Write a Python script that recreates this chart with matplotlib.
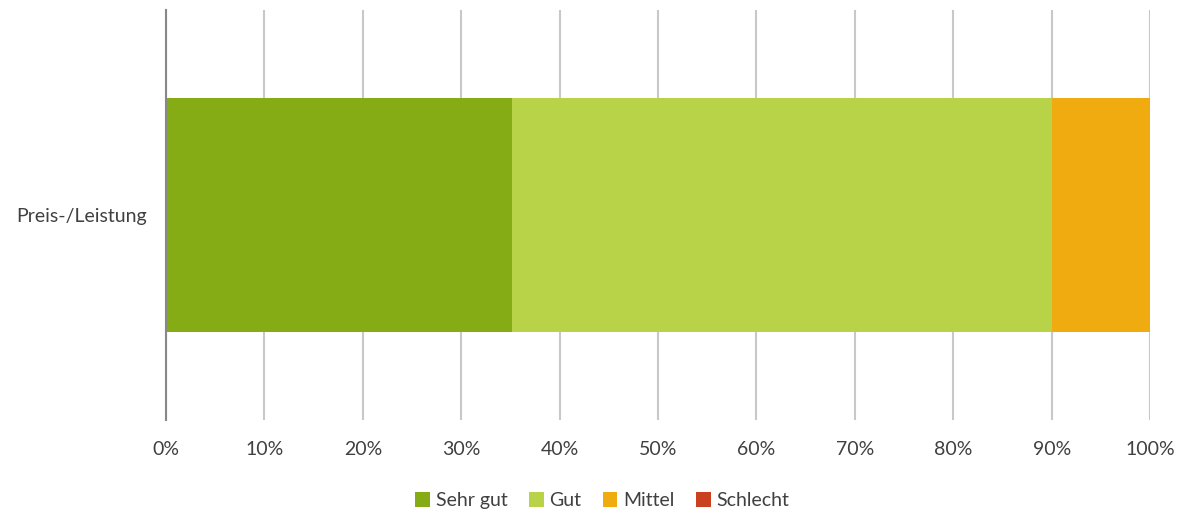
import matplotlib.pyplot as plt
import numpy as np

categories = ['Preis-/Leistung']
series = ['Sehr gut', 'Gut', 'Mittel', 'Schlecht']
values = [35.2, 54.8, 10.0, 0.0]
colors = ['#85ac14', '#b8d348', '#f0ab10', '#c9411e']
ticks = np.arange(0, 101, 10)

plt.rcParams['font.family'] = ['Lato', 'DejaVu Sans']

fig = plt.figure(figsize=(11.81, 5.13), dpi=100)
ax = fig.add_axes([0.1406, 0.1813, 0.8332, 0.7992])

left = 0
for name, v, c in zip(series, values, colors):
    ax.barh(categories, [v], left=left, height=0.571, color=c, label=name, zorder=2)
    left += v

ax.set_xlim(0, 100)
ax.set_ylim(-0.5, 0.5)
ax.set_xticks(ticks)
ax.set_xticklabels(['%d%%' % t for t in ticks])
ax.grid(axis='x', color='#c8c8c8', linewidth=1.5, zorder=0)
for s in ['top', 'right', 'bottom']:
    ax.spines[s].set_visible(False)
ax.spines['left'].set_color('#888888')
ax.spines['left'].set_linewidth(1.5)
ax.spines['left'].set_zorder(3)
ax.tick_params(axis='both', length=0, labelsize=14, labelcolor='#404040')
ax.tick_params(axis='x', pad=15)
ax.tick_params(axis='y', pad=14)

fig.legend(loc='center', bbox_to_anchor=(0.51, 0.024), ncol=4, frameon=False,
           fontsize=14, labelcolor='#404040', handlelength=0.75, handleheight=0.75,
           handletextpad=0.3, columnspacing=1.1)

plt.savefig('out.png', dpi=100)
